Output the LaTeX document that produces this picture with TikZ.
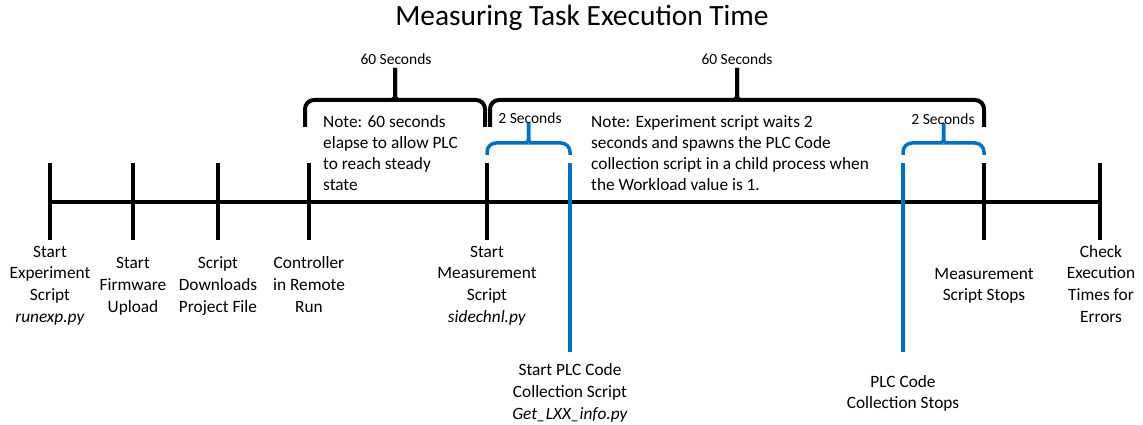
\documentclass[tikz,border=0pt]{standalone}
\usepackage{fontspec}
\setmainfont{Carlito}
\usetikzlibrary{calc}
\definecolor{plcblue}{RGB}{0,112,192}
\def\timebrace[#1](#2:#3)(#4:#5:#6){%
	\pgfmathsetmacro\bracemid{(#2+#3)/2}%
	\draw[#1, rounded corners=9pt] (#2,#4) -- (#2,#5) -- (\bracemid-11,#5) .. controls (\bracemid-3,#5) and (\bracemid,#5-3) .. (\bracemid,#5-11) -- (\bracemid,#6);
	\draw[#1, rounded corners=9pt] (#3,#4) -- (#3,#5) -- (\bracemid+11,#5) .. controls (\bracemid+3,#5) and (\bracemid,#5-3) .. (\bracemid,#5-11) -- (\bracemid,#6);}
\tikzset{
	axisline/.style={line width=4pt},
	tickmark/.style={line width=4pt},
	plcmark/.style={line width=4pt, color=plcblue},
	event/.style={align=center, inner sep=0pt, anchor=base, font=\fontsize{17.3}{21.6}\selectfont},
	notetext/.style={align=left, inner sep=0pt, anchor=base west, font=\fontsize{17.3}{21.2}\selectfont},
	spanlabel/.style={inner sep=0pt, anchor=base, font=\fontsize{15.5}{18}\selectfont}
}
\begin{document}
\begin{tikzpicture}[x=1pt, y=-1pt]
			%%%%% START %%%%%
			\useasboundingbox (0,0) rectangle (1143,425);
			
			\node[inner sep=0pt, anchor=base, font=\fontsize{29.4}{33}\selectfont] (title) at (582,26) {Measuring Task Execution Time};
			
			% time axis
			\coordinate (axisstart) at (48,202);
			\coordinate (axisend) at (1102,202);
			\draw[axisline] (axisstart) -- (axisend);
			\foreach \tx in {50, 133, 218, 309, 487, 984, 1100}
				\draw[tickmark] (\tx,163) -- (\tx,240);
			
			% PLC collection markers
			\draw[plcmark] (570,163) -- (570,352);
			\draw[plcmark] (903,163) -- (903,352);
			
			% spans
			\timebrace[line width=4pt](305:485)(127:100:68)
			\timebrace[line width=4pt](490:984)(127:100:68)
			\timebrace[line width=3.5pt, color=plcblue](487:570)(155:143:128)
			\timebrace[line width=3.5pt, color=plcblue](903:984)(155:143:128)
			
			\node[spanlabel] (span60a) at (396,65) {60 Seconds};
			\node[spanlabel] (span60b) at (737,65) {60 Seconds};
			\node[spanlabel] (span2a) at (530,124) {2 Seconds};
			\node[spanlabel] (span2b) at (943,125) {2 Seconds};
			
			% multi-line nodes: base is the last line
			\node[notetext] (steadynote) at (323,190.6) {Note: 60 seconds\\elapse to allow PLC\\to reach steady\\state};
			\node[notetext] (spawnnote) at (591,190.6) {Note: Experiment script waits 2\\seconds and spawns the PLC Code\\collection script in a child process when\\the Workload value is 1.};
			
			% events
			\node[event] (runexp) at (50,322) {Start\\Experiment\\Script\\\textit{runexp.py}};
			\node[event] (firmware) at (133,312) {Start\\Firmware\\Upload};
			\node[event] (download) at (218,312) {Script\\Downloads\\Project File};
			\node[event] (remoterun) at (309,312) {Controller\\in Remote\\Run};
			\node[event] (sidechnl) at (487,322) {Start\\Measurement\\Script\\\textit{sidechnl.py}};
			\node[event] (plcstart) at (570,419) {Start PLC Code\\Collection Script\\\textit{Get\_LXX\_info.py}};
			\node[event] (plcstop) at (903,408.6) {PLC Code\\Collection Stops};
			\node[event] (measstop) at (984,300.6) {Measurement\\Script Stops};
			\node[event] (checktimes) at (1101,322) {Check\\Execution\\Times for\\Errors};
			
			%%%%% END %%%%%
\end{tikzpicture}
\end{document}
